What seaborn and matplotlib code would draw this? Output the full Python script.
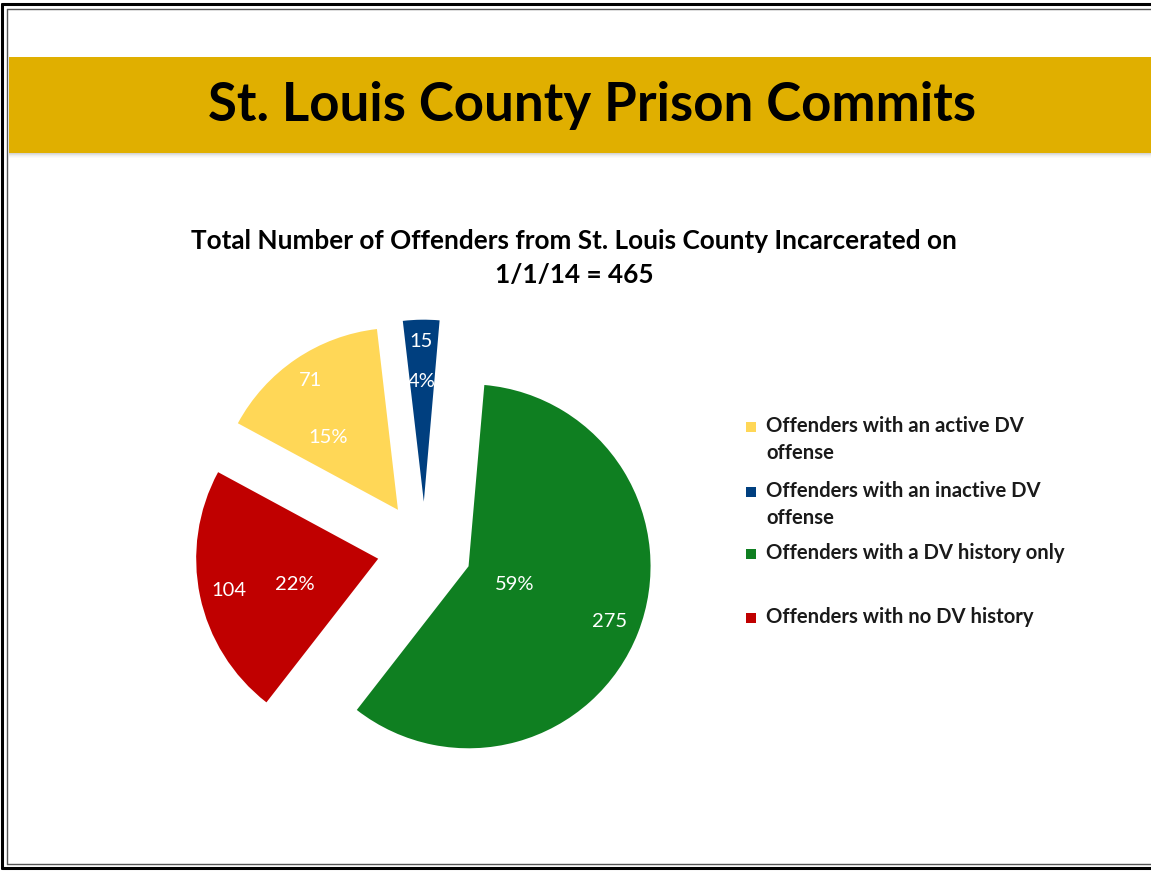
import matplotlib
matplotlib.use("Agg")
import matplotlib.pyplot as plt
import matplotlib.patches as mpatches
import seaborn as sns
import numpy as np

sns.set_theme(style="white")
plt.rcParams['font.family'] = ['Lato', 'DejaVu Sans']

# ---- data ----
categories = ["Offenders with an active DV\noffense",
              "Offenders with an inactive DV\noffense",
              "Offenders with a DV history only",
              "Offenders with no DV history"]
values = [71, 15, 275, 104]
pct_labels = ["15%", "4%", "59%", "22%"]
colors = ["#FFD757", "#003F7F", "#0F7F21", "#C00000"]

slide_title = "St. Louis County Prison Commits"
chart_title = "Total Number of Offenders from St. Louis County Incarcerated on\n1/1/14 = 465"

W, H = 1151, 871
fig = plt.figure(figsize=(W / 100, H / 100), dpi=100)
fig.patch.set_facecolor("white")

# slide border
bg = fig.add_axes([0, 0, 1, 1])
bg.set_xlim(0, W)
bg.set_ylim(H, 0)
bg.axis("off")
bg.plot([2, 2], [4, 868], color="black", lw=2.2)
bg.plot([7, 7], [9, 864], color="#555555", lw=1.0)
bg.plot([2, W + 5], [4.5, 4.5], color="black", lw=2.2)
bg.plot([7, W + 5], [9, 9], color="#555555", lw=1.0)
bg.plot([2, W + 5], [867.5, 867.5], color="black", lw=2.2)
bg.plot([7, W + 5], [864, 864], color="#555555", lw=1.0)

# banner with soft shadow
for i, a in enumerate([0.35, 0.25, 0.15, 0.08, 0.04]):
    bg.add_patch(mpatches.Rectangle((9, 153 + i), W, 1, color="#888888", alpha=a, lw=0))
bg.add_patch(mpatches.Rectangle((9, 57), W, 96, color="#E0AF00", lw=0))
bg.text(592, 106, slide_title, ha="center", va="center", fontsize=38,
        fontweight="bold", color="black")

# chart title
bg.text(574, 241, chart_title.split("\n")[0], ha="center", va="center", fontsize=18.8,
        fontweight="bold", color="black")
bg.text(574, 275, chart_title.split("\n")[1], ha="center", va="center", fontsize=18.8,
        fontweight="bold", color="black")

# pie
cx, cy, R = 424.5, 549, 182
ax = fig.add_axes([(cx - 1.5 * R) / W, (H - cy - 1.5 * R) / H, 3 * R / W, 3 * R / H])
wedges, _ = ax.pie(values, colors=colors, explode=[0.26] * 4, startangle=151.6,
                   counterclock=False, radius=1.0,
                   wedgeprops=dict(linewidth=0))
ax.set_xlim(-1.5, 1.5)
ax.set_ylim(-1.5, 1.5)
ax.set_aspect("auto")
ax.axis("off")

val_frac = [0.86, 0.88, 0.83, 0.84]
pct_frac = [0.55, 0.66, 0.27, 0.48]
pct_angle_off = [10, 0, 0, 5]
for w, v, p, vf, pf, po in zip(wedges, values, pct_labels, val_frac, pct_frac, pct_angle_off):
    x0, y0 = w.center
    tm = np.deg2rad((w.theta1 + w.theta2) / 2)
    ax.text(x0 + vf * np.cos(tm), y0 + vf * np.sin(tm), str(v), ha="center", va="center",
            color="white", fontsize=14.5)
    tp = tm + np.deg2rad(po)
    ax.text(x0 + pf * np.cos(tp), y0 + pf * np.sin(tp), p, ha="center", va="center",
            color="white", fontsize=14.5)

# legend (manual)
ly = [427, 492, 554, 618]
for c, lab, y in zip(colors, categories, ly):
    bg.add_patch(mpatches.Rectangle((746, y - 5), 10, 10, color=c, lw=0))
    bg.text(766, y - 11, lab, ha="left", va="top", fontsize=14.6, fontweight="bold",
            color="#1a1a1a", linespacing=1.42)

fig.savefig("out.png", dpi=100)
